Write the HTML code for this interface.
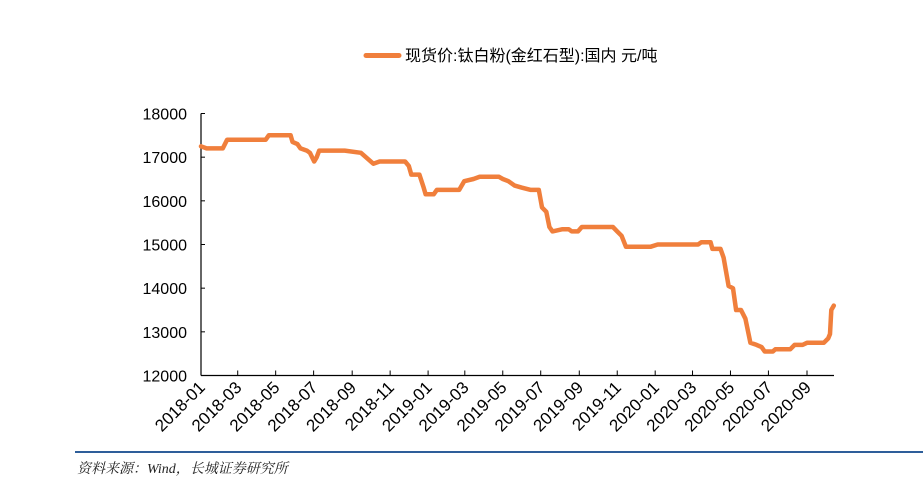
<!DOCTYPE html>
<html><head><meta charset="utf-8"><style>
html,body{margin:0;padding:0;background:#fff;width:923px;height:488px;overflow:hidden}
svg{display:block}
</style></head><body>
<svg id="chart" width="923" height="488" xmlns="http://www.w3.org/2000/svg" font-family="'Liberation Sans','Noto Sans CJK SC',sans-serif">
<g>
<line x1="366" y1="55.5" x2="399" y2="55.5" stroke="#F07F3C" stroke-width="5" stroke-linecap="round"/>
<text x="405" y="61" font-size="16" fill="#000">现货价:钛白粉(金红石型):国内 元/吨</text>
</g>
<g id="axes"></g>
<g id="series"></g>
<line x1="75" y1="452" x2="923" y2="452" stroke="#2E5E9A" stroke-width="2"/>
<text x="77" y="473" font-size="14" font-style="italic" font-family="'Liberation Serif','Noto Serif CJK SC',serif" fill="#222">资料来源：Wind，长城证券研究所</text>
</svg>
<script>
const yTicks=[12000,13000,14000,15000,16000,17000,18000];
const xTickLabels=["2018-01","2018-03","2018-05","2018-07","2018-09","2018-11","2019-01","2019-03","2019-05","2019-07","2019-09","2019-11","2020-01","2020-03","2020-05","2020-07","2020-09"];
const dates=["2018-01-01","2018-01-10","2018-02-05","2018-02-12","2018-04-15","2018-04-20","2018-05-25","2018-05-28","2018-06-05","2018-06-10","2018-06-20","2018-06-25","2018-07-02","2018-07-06","2018-07-10","2018-08-20","2018-09-15","2018-10-05","2018-10-15","2018-11-25","2018-12-01","2018-12-05","2018-12-18","2018-12-25","2018-12-28","2019-01-10","2019-01-15","2019-02-20","2019-02-28","2019-03-15","2019-03-25","2019-04-25","2019-05-01","2019-05-10","2019-05-20","2019-06-01","2019-06-15","2019-06-28","2019-07-03","2019-07-10","2019-07-15","2019-07-20","2019-08-05","2019-08-15","2019-08-20","2019-08-30","2019-09-05","2019-10-25","2019-11-01","2019-11-08","2019-11-15","2019-12-25","2020-01-05","2020-03-10","2020-03-15","2020-03-30","2020-04-02","2020-04-15","2020-04-20","2020-04-28","2020-05-05","2020-05-10","2020-05-18","2020-05-25","2020-06-02","2020-06-12","2020-06-20","2020-06-25","2020-07-08","2020-07-12","2020-07-20","2020-08-05","2020-08-12","2020-08-25","2020-09-01","2020-09-28","2020-10-05","2020-10-08","2020-10-10","2020-10-14"];
const prices=[17250,17200,17200,17400,17400,17500,17500,17350,17300,17200,17150,17100,16900,17000,17150,17150,17100,16850,16900,16900,16800,16600,16600,16300,16150,16150,16250,16250,16450,16500,16550,16550,16500,16450,16350,16300,16250,16250,15850,15750,15400,15300,15350,15350,15300,15300,15400,15400,15300,15200,14950,14950,15000,15000,15050,15050,14900,14900,14700,14050,14000,13500,13500,13300,12750,12700,12650,12550,12550,12600,12600,12600,12700,12700,12750,12750,12850,12950,13500,13600];

const NS="http://www.w3.org/2000/svg";
const X0=201,X1=834,Y0=375.5,Y1=113.5;
const t0=Date.UTC(2018,0,1), pxPerDay=606/974;
function dayOf(s){const p=s.split("-").map(Number);return (Date.UTC(p[0],p[1]-1,p[2]||1)-t0)/86400000;}
function xS(s){return X0+dayOf(s)*pxPerDay;}
function yS(v){return Y0-(v-12000)/6000*(Y0-Y1);}
function mk(tag,attrs,parent){const e=document.createElementNS(NS,tag);for(const k in attrs)e.setAttribute(k,attrs[k]);parent.appendChild(e);return e;}
const axes=document.getElementById("axes"),series=document.getElementById("series");

const ya=mk("line",{x1:X0,y1:Y1,x2:X0,y2:Y0,stroke:"#000","stroke-width":1.2},axes);


const xa=mk("line",{x1:X0,y1:Y0,x2:X1,y2:Y0,stroke:"#000","stroke-width":1.2},axes);



yTicks.forEach(v=>{
  const y=yS(v);
  const tk=mk("line",{x1:X0,y1:y,x2:X0+4,y2:y,stroke:"#000","stroke-width":1},axes);
  
  
  const t=mk("text",{x:X0-14,y:y+6,"text-anchor":"end","font-size":16,fill:"#000"},axes);
  t.textContent=v;
  
  
});
xTickLabels.forEach(l=>{
  const x=xS(l+"-01");
  const tk=mk("line",{x1:x,y1:Y0,x2:x,y2:Y0-5,stroke:"#000","stroke-width":1},axes);
  
  
  const t=mk("text",{x:x+5,y:Y0+13,"text-anchor":"end","font-size":17,fill:"#000",transform:`rotate(-45 ${x+5} ${Y0+13})`},axes);
  t.textContent=l;
  
  
});
let d="";
dates.forEach((s,i)=>{d+=(i?"L":"M")+xS(s).toFixed(1)+" "+yS(prices[i]).toFixed(1);});
const line=mk("path",{d:d,fill:"none",stroke:"#F07F3C","stroke-width":4.5,"stroke-linejoin":"round","stroke-linecap":"round"},series);


</script>
</body></html>
